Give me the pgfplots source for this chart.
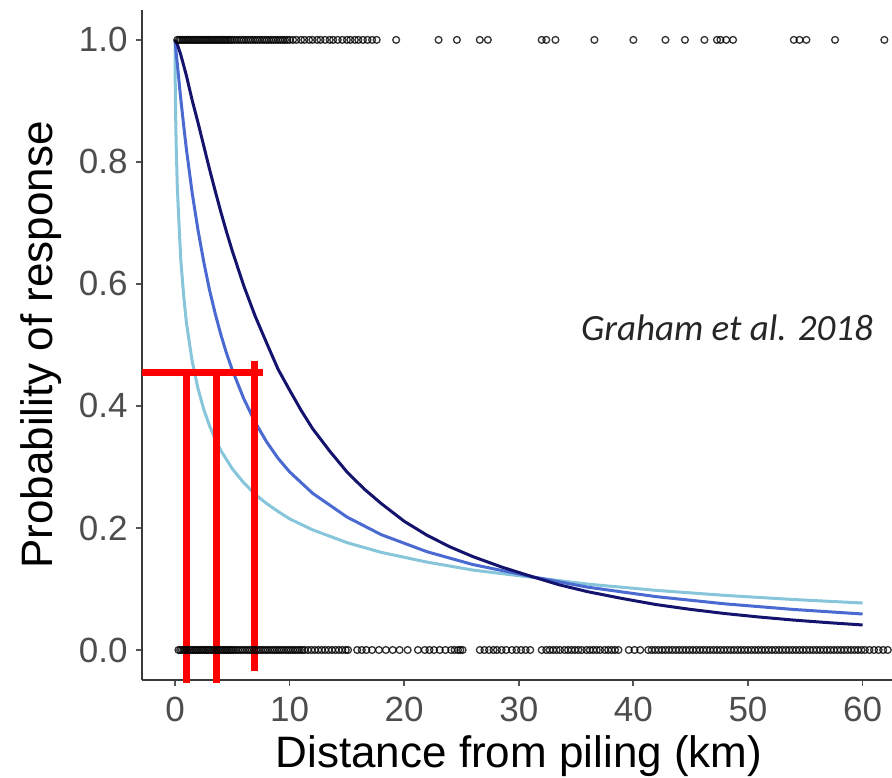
\documentclass[border=0pt]{standalone}
\usepackage{pgfplots}
\pgfplotsset{compat=1.18}
\usepackage{fontspec}
\setmainfont{Liberation Sans}
\newfontfamily\carlito{Carlito}
\definecolor{lightc}{HTML}{86C5DA}
\definecolor{medc}{HTML}{4A6AD2}
\definecolor{darkc}{HTML}{14146E}
\definecolor{axisgray}{HTML}{3A3A3A}
\definecolor{tickgray}{HTML}{555555}
\definecolor{labgray}{HTML}{4D4D4D}
\definecolor{txtgray}{HTML}{262626}
\begin{document}
\begin{tikzpicture}
\useasboundingbox (0,0) rectangle (446pt,388.5pt);
\clip (0,0) rectangle (446pt,388.5pt);
\begin{axis}[
  at={(71pt,48.5pt)}, anchor=south west,
  scale only axis, width=375pt, height=335pt,
  xmin=-2.88, xmax=62.57, ymin=-0.0492, ymax=1.049,
  axis x line*=bottom, axis y line*=left,
  axis line style={-, draw=axisgray, line width=1pt},
  xtick={0,10,20,30,40,50,60}, ytick={0,0.2,0.4,0.6,0.8,1},
  /pgf/number format/assume math mode=true,
  tick align=outside, major tick length=2.8pt,
  tick style={draw=tickgray, line width=0.9pt},
  tick label style={font=\fontsize{17.5}{20}\selectfont, text=labgray},
  xticklabel style={anchor=north, inner sep=0pt, yshift=-5.7pt},
  yticklabel style={anchor=east, inner sep=0pt, xshift=-4.2pt,
    /pgf/number format/fixed, /pgf/number format/fixed zerofill, /pgf/number format/precision=1},
  xlabel={Distance from piling (km)},
  ylabel={Probability of response},
  label style={font=\fontsize{22}{26}\selectfont, text=black},
  xlabel style={at={(axis description cs:0.5027,-0.1299)}, anchor=base},
  ylabel style={at={(axis description cs:-0.1187,0.5)}, anchor=base},
  clip=false,
]
% observations at 1
\addplot[only marks, mark=o, mark size=1.7pt, mark options={line width=0.65pt, draw=black, draw opacity=0.8}] coordinates {
(0.2,1)(0.35,1)(0.5,1)(0.65,1)(0.8,1)(0.95,1)(1.1,1)(1.25,1)(1.4,1)(1.55,1)(1.7,1)(1.85,1)(2.0,1)(2.15,1)(2.3,1)(2.45,1)(2.6,1)(2.75,1)(2.9,1)(3.05,1)(3.2,1)(3.35,1)(3.5,1)(3.65,1)(3.8,1)(3.95,1)(4.1,1)(4.25,1)(4.4,1)(4.55,1)(4.7,1)(4.85,1)(5.0,1)(5.2,1)(5.4,1)(5.6,1)(5.8,1)(6.0,1)(6.2,1)(6.4,1)(6.6,1)(6.8,1)(7.0,1)(7.2,1)(7.4,1)(7.6,1)(7.8,1)(8.0,1)(8.2,1)(8.4,1)(8.6,1)(8.8,1)(9.0,1)(9.2,1)(9.4,1)(9.6,1)(9.8,1)(10.0,1)
(10.3,1)(10.6,1)(11.0,1)(11.3,1)(11.7,1)(12.0,1)(12.4,1)(12.7,1)(13.1,1)(13.5,1)(13.8,1)(14.2,1)(14.6,1)(15.0,1)(15.3,1)(15.7,1)(16.0,1)(16.4,1)(16.8,1)(17.2,1)(17.6,1)
(19.3,1)(23.0,1)(24.6,1)(26.6,1)(27.3,1)(32.0,1)(32.4,1)(33.2,1)(36.6,1)(40.0,1)(42.8,1)(44.5,1)(46.2,1)(47.3,1)(47.6,1)(48.1,1)(48.7,1)(54.0,1)(54.5,1)(55.1,1)(57.6,1)(61.9,1)
};
% observations at 0
\addplot[only marks, mark=o, mark size=1.7pt, mark options={line width=0.65pt, draw=black, draw opacity=0.8}] coordinates {
(0.3,0)(0.45,0)(0.6,0)(0.75,0)(0.9,0)(1.05,0)(1.2,0)(1.35,0)(1.5,0)(1.65,0)(1.8,0)(1.95,0)(2.1,0)(2.25,0)(2.4,0)(2.55,0)(2.7,0)(2.85,0)(3.0,0)(3.15,0)(3.3,0)(3.45,0)(3.6,0)(3.75,0)(3.9,0)(4.05,0)(4.2,0)(4.35,0)(4.5,0)(4.65,0)(4.8,0)(4.95,0)(5.1,0)(5.3,0)(5.5,0)(5.7,0)(5.9,0)(6.1,0)(6.3,0)(6.5,0)(6.7,0)(6.9,0)(7.1,0)(7.3,0)(7.5,0)(7.7,0)(7.9,0)(8.1,0)(8.3,0)(8.5,0)(8.7,0)(8.9,0)(9.1,0)(9.3,0)(9.5,0)(9.7,0)(9.9,0)(10.1,0)(10.3,0)(10.5,0)(10.7,0)(10.9,0)(11.1,0)(11.3,0)(11.6,0)(11.9,0)(12.2,0)(12.5,0)(12.8,0)(13.1,0)(13.4,0)(13.7,0)(14.0,0)(14.3,0)(14.6,0)(14.9,0)(15.1,0)
(15.9,0)(16.3,0)(16.7,0)(17.2,0)(17.8,0)(18.4,0)(19.0,0)(19.6,0)(20.3,0)(21.2,0)(21.8,0)(22.2,0)(22.6,0)(23.1,0)(23.6,0)(24.1,0)(24.4,0)(24.7,0)(24.9,0)(25.1,0)
(26.6,0)(27.0,0)(27.4,0)(27.8,0)(28.1,0)(28.5,0)(28.9,0)(29.4,0)(29.8,0)(30.2,0)(30.6,0)(31.0,0)
(32.0,0)(32.4,0)(32.7,0)(33.0,0)(33.3,0)(33.6,0)(34.0,0)(34.3,0)(34.6,0)(34.9,0)(35.2,0)(35.5,0)(35.9,0)(36.2,0)(36.5,0)(36.8,0)(37.1,0)(37.5,0)(37.8,0)(38.1,0)(38.4,0)(38.7,0)(39.6,0)(40.1,0)(40.6,0)
(41.3,0)(41.6,0)(41.9,0)(42.2,0)(42.5,0)(42.8,0)(43.1,0)(43.4,0)(43.7,0)(44.0,0)(44.3,0)(44.6,0)(44.9,0)(45.2,0)(45.5,0)(45.8,0)(46.1,0)(46.4,0)(46.7,0)(47.0,0)(47.3,0)(47.6,0)(47.9,0)(48.2,0)(48.5,0)(48.8,0)(49.1,0)(49.4,0)(49.7,0)(50.0,0)(50.3,0)(50.6,0)(50.9,0)(51.2,0)(51.5,0)(51.8,0)(52.1,0)(52.4,0)(52.7,0)(53.0,0)(53.3,0)(53.6,0)(53.9,0)(54.2,0)(54.5,0)(54.8,0)(55.1,0)(55.4,0)(55.7,0)(56.0,0)(56.3,0)(56.6,0)(56.9,0)(57.2,0)(57.5,0)(57.8,0)(58.1,0)(58.4,0)(58.7,0)(59.0,0)(59.3,0)(59.6,0)(59.9,0)(60.2,0)(60.6,0)(61.0,0)(61.4,0)(61.8,0)(62.2,0)
};
% fitted curves
\addplot[lightc, line width=1.5pt, line join=round] coordinates {
(0,1.0)(0.02,0.93)(0.05,0.883)(0.1,0.830)(0.2,0.760)(0.3,0.718)(0.5,0.641)(0.75,0.582)(1,0.536)(1.5,0.473)(2,0.429)(2.5,0.395)(3,0.368)(3.5,0.346)(4,0.327)(5,0.297)(6,0.274)(7,0.255)(8,0.240)(9,0.227)(10,0.215)(12,0.197)(15,0.176)(18,0.160)(22,0.144)(26,0.131)(31.2,0.119)(36,0.108)(42,0.0977)(48,0.0895)(54,0.0827)(60,0.077)
};
\addplot[medc, line width=1.5pt, line join=round] coordinates {
(0,1.0)(0.05,0.991)(0.1,0.979)(0.2,0.961)(0.35,0.932)(0.5,0.904)(0.75,0.861)(1,0.820)(1.5,0.749)(2,0.689)(2.5,0.637)(3,0.591)(3.5,0.552)(4,0.517)(4.5,0.486)(5,0.459)(6,0.412)(7,0.373)(8,0.341)(9,0.314)(10,0.292)(12,0.257)(15,0.218)(18,0.189)(22,0.161)(26,0.140)(31.2,0.120)(36,0.103)(42,0.0874)(48,0.0756)(54,0.0664)(60,0.059)
};
\addplot[darkc, line width=1.5pt, line join=round] coordinates {
(0,1.0)(0.2,0.993)(0.5,0.976)(1,0.941)(1.5,0.901)(2,0.865)(2.5,0.827)(3,0.789)(3.5,0.753)(4,0.718)(4.5,0.685)(5,0.654)(6,0.597)(7,0.547)(8,0.503)(9,0.460)(10,0.426)(11,0.393)(12,0.363)(13.5,0.326)(15,0.292)(16.5,0.264)(18,0.240)(20,0.211)(22,0.188)(24,0.169)(26,0.153)(28.5,0.136)(31.2,0.120)(33.5,0.107)(36,0.0956)(39,0.0845)(42,0.0744)(45,0.0665)(48,0.0597)(51,0.0540)(54,0.0490)(57,0.0448)(60,0.041)
};
% red annotation lines
\addplot[red, line width=3.5pt] coordinates {(-2.88,0.455)(7.65,0.455)};
\addplot[red, line width=3.5pt] coordinates {(0.96,0.455)(0.96,-0.054)};
\addplot[red, line width=3.5pt] coordinates {(3.58,0.455)(3.58,-0.054)};
\addplot[red, line width=3.5pt] coordinates {(6.92,0.474)(6.92,-0.034)};
\node[anchor=base, text=txtgray, font=\carlito\itshape\fontsize{18.5}{22}\selectfont] at (axis cs:48.17,0.508) {Graham et al. 2018};
\end{axis}
\end{tikzpicture}
\end{document}
